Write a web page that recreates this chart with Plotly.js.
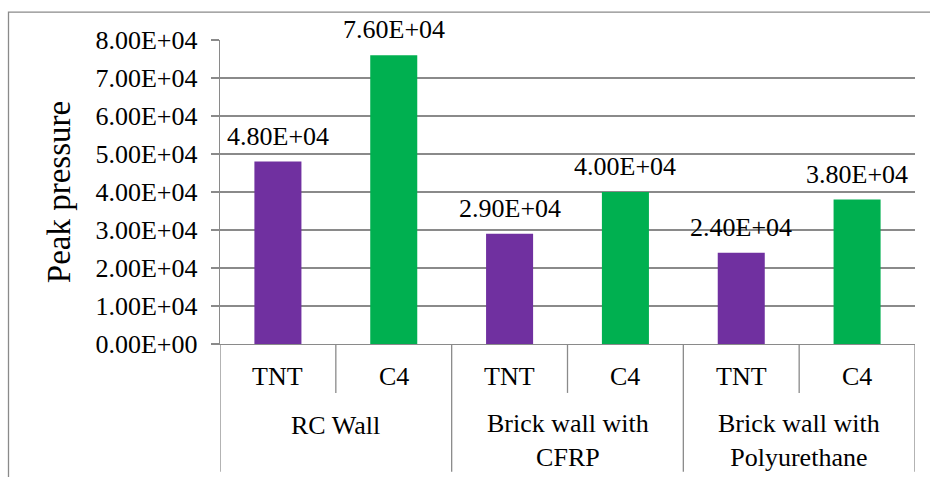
<!DOCTYPE html>
<html>
<head>
<script src="https://cdn.plot.ly/plotly-3.0.1.min.js"></script>
</head>
<body style="margin:0">
<div id="chart" style="width:930px;height:477px"></div>
<script>
// ---- data ----
const groups = ["RC Wall", "Brick wall with<br>CFRP", "Brick wall with<br>Polyurethane"];
const explosives = ["TNT", "C4"];
const peakPressure = [48000, 76000, 29000, 40000, 24000, 38000];
const yTickValues = [0, 10000, 20000, 30000, 40000, 50000, 60000, 70000, 80000];
const explosiveColors = { "TNT": "#7030A0", "C4": "#00B050" };
const yTitle = "Peak pressure";

// ---- helpers ----
function sci(v) {
  const s = v.toExponential(2);           // e.g. 4.80e+4
  const m = s.match(/^(-?[\d.]+)e([+-])(\d+)$/);
  const exp = m[3].length < 2 ? "0" + m[3] : m[3];
  return m[1] + "E" + m[2] + exp;
}

const cats = [], subLabels = [], colors = [];
groups.forEach(g => explosives.forEach(e => {
  cats.push(g.replace("<br>", " ") + " | " + e);
  subLabels.push(e);
  colors.push(explosiveColors[e]);
}));

const serifFam = "Liberation Serif";
const fs = 26;
const gridCol = "#8a8a8a";
const plotTop = 39.5, plotBottom = 344, plotH = plotBottom - plotTop;
const py = px => (plotBottom - px) / plotH;   // pixel row -> paper y
const txtFont = () => ({ family: serifFam, size: fs, color: "#000" });

const trace = {
  type: "bar",
  x: cats,
  y: peakPressure,
  width: 0.406,
  marker: { color: colors, line: { width: 0 } },
  hoverinfo: "none",
  showlegend: false
};

const annotations = [];
// data labels
cats.forEach((c, i) => {
  annotations.push({
    x: i, y: peakPressure[i], xref: "x", yref: "y",
    text: sci(peakPressure[i]), showarrow: false,
    xanchor: "center", yanchor: "bottom", yshift: 9,
    font: txtFont()
  });
});
// sub-category labels
subLabels.forEach((s, i) => {
  annotations.push({
    x: i, y: py(377), xref: "x", yref: "paper",
    text: s, showarrow: false, xanchor: "center", yanchor: "middle",
    font: txtFont()
  });
});
// group labels
groups.forEach((g, gi) => {
  const nLines = g.split("<br>").length;
  annotations.push({
    x: gi * explosives.length + (explosives.length - 1) / 2,
    y: py(426 + (nLines - 1) * 15),
    xref: "x", yref: "paper",
    text: g, showarrow: false, xanchor: "center", yanchor: "middle",
    font: txtFont()
  });
});

const shapes = [];
const lineStyle = { color: gridCol, width: 1.3 };
// separators between sub-categories (short)
groups.forEach((g, gi) => {
  for (let k = 1; k < explosives.length; k++) {
    const xb = gi * explosives.length + k - 0.5;
    shapes.push({ type: "line", xref: "x", yref: "paper", x0: xb, x1: xb,
      y0: 0, y1: py(393), line: lineStyle });
  }
});
// separators between groups (long)
for (let gi = 0; gi <= groups.length; gi++) {
  const xb = gi * explosives.length - 0.5;
  shapes.push({ type: "line", xref: "x", yref: "paper", x0: xb, x1: xb,
    y0: 0, y1: py(472), line: lineStyle });
}
// outer chart border (left + top visible)
shapes.push({ type: "rect", xref: "paper", yref: "paper",
  x0: (8.5 - 220) / 695, x1: (940 - 220) / 695, y0: py(490), y1: py(11.5),
  line: { color: gridCol, width: 1.3 }, fillcolor: "rgba(0,0,0,0)", layer: "below" });

const layout = {
  width: 930, height: 477,
  margin: { l: 220, r: 15, t: plotTop, b: 477 - plotBottom, pad: 0 },
  paper_bgcolor: "#ffffff", plot_bgcolor: "#ffffff",
  bargap: 0.59,
  xaxis: {
    type: "category", range: [-0.5, cats.length - 0.5],
    showticklabels: false, ticks: "", showgrid: false, zeroline: false,
    showline: true, linecolor: gridCol, linewidth: 1.3, fixedrange: true
  },
  yaxis: {
    range: [0, 80000], tickvals: yTickValues, ticktext: yTickValues.map(sci),
    showgrid: true, gridcolor: gridCol, gridwidth: 1.3,
    zeroline: false, showline: true, linecolor: gridCol, linewidth: 1.3,
    ticks: "outside", ticklen: 8, tickcolor: gridCol, tickwidth: 1.3,
    ticklabelstandoff: 8,
    tickfont: txtFont(),
    title: { text: yTitle, font: { family: serifFam, size: 33, color: "#000" }, standoff: 15 },
    automargin: false, fixedrange: true
  },
  annotations: annotations,
  shapes: shapes
};

Plotly.newPlot("chart", [trace], layout, { displayModeBar: false, staticPlot: true });
</script>
</body>
</html>
